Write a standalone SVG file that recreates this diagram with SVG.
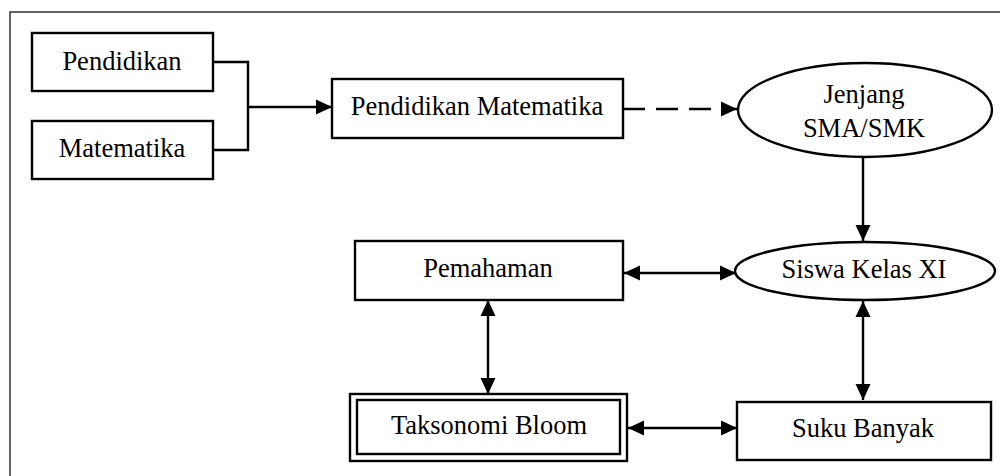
<svg xmlns="http://www.w3.org/2000/svg" width="1000" height="476" viewBox="0 0 1000 476">
<style>
  .box{fill:#fff;stroke:#000;stroke-width:2.4}
  .lbl{font-family:"Liberation Serif","Times New Roman",serif;font-size:26.5px;fill:#000;text-anchor:middle}
  .ln{fill:none;stroke:#000;stroke-width:2.4}
  .arr{marker-end:url(#ah)}
  .both{marker-start:url(#ah);marker-end:url(#ah)}
</style>
<defs>
  <marker id="ah" markerUnits="userSpaceOnUse" markerWidth="17" markerHeight="16" refX="16" refY="7.5" orient="auto-start-reverse" viewBox="0 0 17 15">
    <path d="M0,0 L16,7.5 L0,15 z" fill="#000"/>
  </marker>
</defs>
<rect width="1000" height="476" fill="#fff"/>
<rect x="10" y="12" width="1010" height="480" fill="none" stroke="#222" stroke-width="1.4"/>

<g id="connectors">
  <path class="ln" d="M213,62 H248 V150 H213"/>
  <path class="ln arr" d="M248,107 H332"/>
  <path class="ln arr" d="M623,109 H737" stroke-dasharray="22,11"/>
  <path class="ln arr" d="M863,157 V241"/>
  <path class="ln both" d="M624,273 H736"/>
  <path class="ln both" d="M488,300 V394"/>
  <path class="ln both" d="M863,301 V400"/>
  <path class="ln both" d="M628,428 H737"/>
</g>

<g id="pendidikan">
  <rect class="box" x="32" y="33" width="181" height="58"/>
  <text class="lbl" x="122" y="70">Pendidikan</text>
</g>
<g id="matematika">
  <rect class="box" x="32" y="121" width="181" height="58"/>
  <text class="lbl" x="122" y="157">Matematika</text>
</g>
<g id="pendidikan-matematika">
  <rect class="box" x="332" y="79" width="291" height="59"/>
  <text class="lbl" x="477" y="115">Pendidikan Matematika</text>
</g>
<g id="jenjang">
  <ellipse class="box" cx="865" cy="110" rx="127" ry="47"/>
  <text class="lbl" x="864" y="103">Jenjang</text>
  <text class="lbl" x="864" y="137">SMA/SMK</text>
</g>
<g id="siswa">
  <ellipse class="box" cx="865" cy="271" rx="130" ry="29"/>
  <text class="lbl" x="864" y="278">Siswa Kelas XI</text>
</g>
<g id="pemahaman">
  <rect class="box" x="355" y="241" width="268" height="59"/>
  <text class="lbl" x="488" y="277">Pemahaman</text>
</g>
<g id="taksonomi">
  <rect class="box" x="350" y="394" width="277" height="67"/>
  <rect class="box" x="357" y="400" width="263" height="54"/>
  <text class="lbl" x="489" y="434">Taksonomi Bloom</text>
</g>
<g id="suku-banyak">
  <rect class="box" x="737" y="402" width="254" height="58"/>
  <text class="lbl" x="863" y="437">Suku Banyak</text>
</g>
</svg>
